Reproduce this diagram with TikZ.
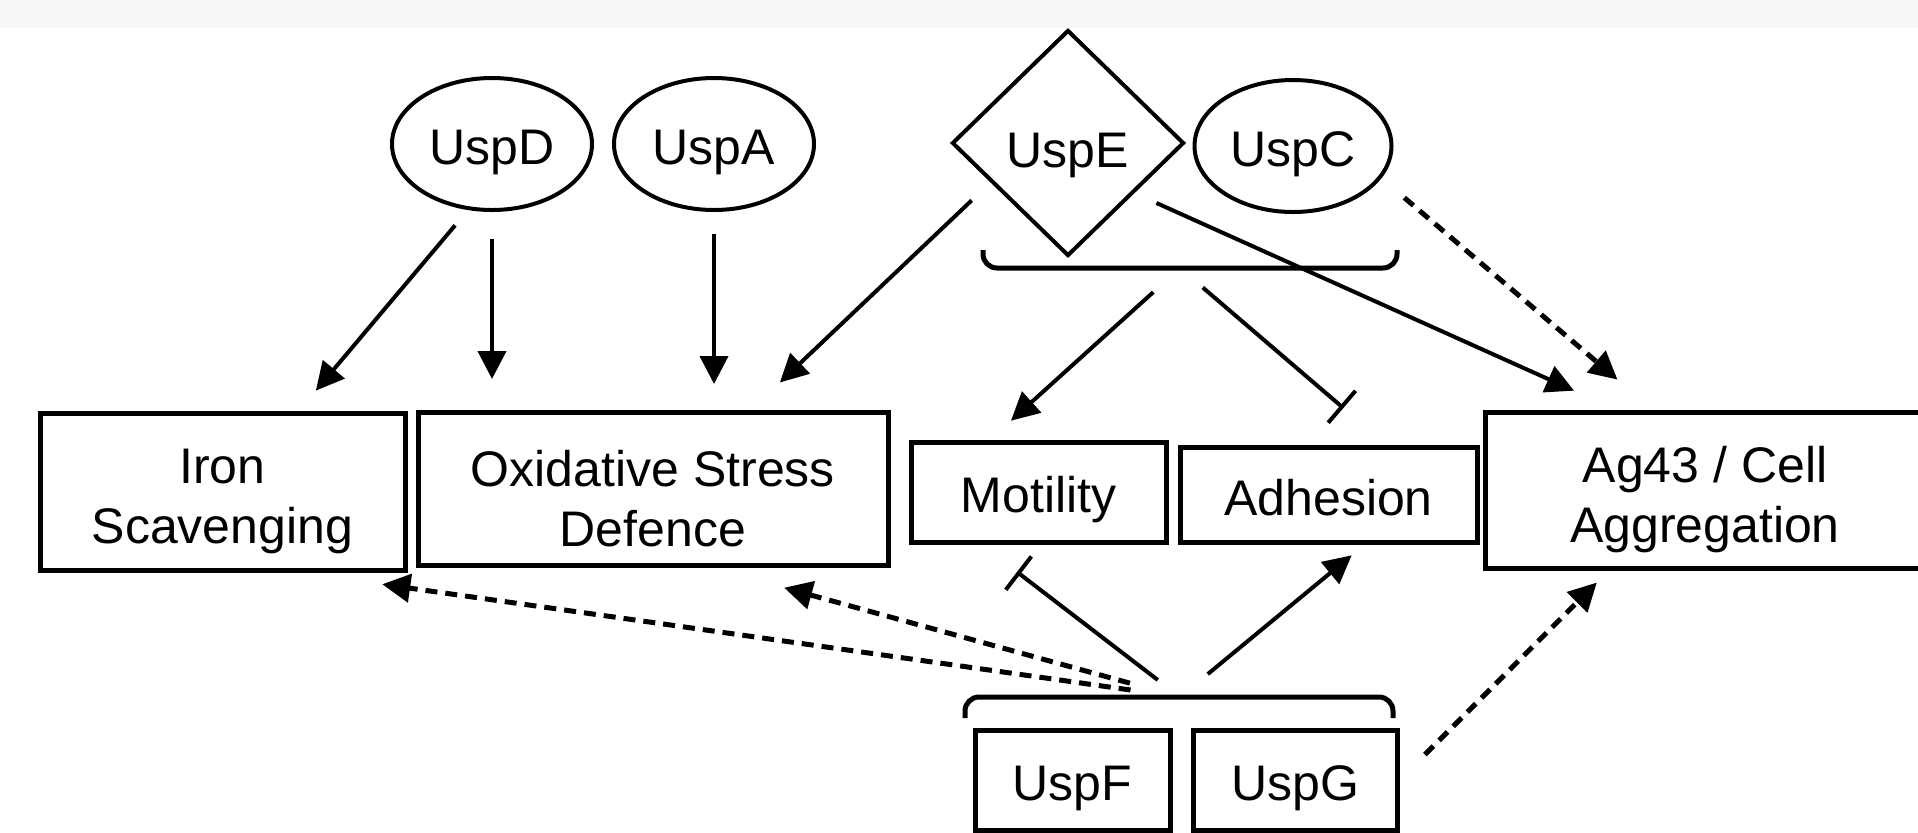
\documentclass[tikz,border=0pt]{standalone}
\usepackage{fontspec}
\setmainfont{Liberation Sans}
\usetikzlibrary{arrows.meta, positioning, shapes.geometric, calc}
\definecolor{bandgray}{HTML}{F8F8F8}

\begin{document}
\begin{tikzpicture}[x=0.5pt, y=-0.5pt, font=\fontsize{25}{30}\selectfont,
  txtone/.style={text height=26pt, text depth=5.5pt},
  txttwo/.style={text height=57.5pt},
  uspell/.style={draw, ellipse, line width=2pt, minimum width=100pt, minimum height=66pt, inner sep=0pt, txtone},
  procbox/.style={draw, rectangle, line width=2.5pt, align=center, inner sep=0pt},
  act/.style={-{Triangle[length=14pt, width=14pt]}, line width=2pt},
  inh/.style={-{Bar[width=21pt]}, line width=2pt},
  weak/.style={act, line width=2.5pt, dash pattern=on 6pt off 4pt},
  brace/.style={line width=2.5pt, rounded corners=7pt}]
\useasboundingbox (0,0) rectangle (1918,832);
\clip (0,0) rectangle (1918,832);
\fill[bandgray] (0,0) rectangle (1918,28);

% Usp proteins
\node[uspell] (UspD) at (492,144) {UspD};
\node[uspell, right=9pt of UspD] (UspA) {UspA};
\node[draw, diamond, line width=2pt, minimum width=116pt, minimum height=113pt, inner sep=0pt, txtone, text height=30pt] (UspE) at (1068,143) {UspE};
\node[uspell, minimum width=98.5pt] (UspC) at (1293,146) {UspC};

% phenotypes
\node[procbox, txttwo, minimum width=182.5pt, minimum height=78.5pt] (Iron) at (222.5,491.5) {Iron\\Scavenging};
\node[procbox, txttwo, minimum width=235pt, minimum height=76.5pt] (Oxid) at (653,489) {Oxidative Stress\\Defence};
\node[procbox, txtone, minimum width=127.5pt, minimum height=50pt] (Mot) at (1038.5,492) {Motility};
\node[procbox, txtone, minimum width=148.5pt, minimum height=47.5pt] (Adh) at (1328.5,494.5) {Adhesion};
\node[procbox, txttwo, minimum width=220pt, minimum height=78pt] (Ag43) at (1705,490) {Ag43 / Cell\\Aggregation};

\node[procbox, txtone, minimum width=97.5pt, minimum height=50pt] (UspF) at (1072.5,780) {UspF};
\node[procbox, txtone, minimum width=102pt, minimum height=50pt, right=9pt of UspF] (UspG) {UspG};

% brackets
\draw[brace] (983,250) -- (983,268) -- (1397,268) -- (1397,250);
\coordinate (topbr) at (1180,268);
\draw[brace] (965,718) -- (965,697) -- (1393,697) -- (1393,718);
\coordinate (botbr) at (1180,697);

\draw[act, shorten <=10pt, shorten >=13pt] (UspD.250) -- ($(Iron.north west)!0.707!(Iron.north east)$);
\draw[act, shorten <=13.5pt, shorten >=15.5pt] (UspD.south) -- (UspD.south |- Oxid.north);
\draw[act, shorten <=11pt, shorten >=13pt] (UspA.south) -- (UspA.south |- Oxid.north);
\draw[act, shorten <=13pt, shorten >=20pt] (UspE.207) -- ($(Oxid.north west)!0.706!(Oxid.north east)$);
\draw[act, shorten <=12pt, shorten >=23pt] (UspE.323) -- ($(Ag43.north west)!0.3!(Ag43.north east)$);
\draw[weak, shorten <=15pt, shorten >=23pt] (UspC.340) -- ($(Ag43.north west)!0.382!(Ag43.north east)$);

\draw[act, shorten <=18pt, shorten >=14pt] (topbr) -- ($(Mot.north west)!0.314!(Mot.north east)$);
\draw[inh, shorten <=15pt, shorten >=28pt] (topbr) -- ($(Adh.north west)!0.69!(Adh.north east)$);

\draw[weak, shorten <=25pt, shorten >=42pt] (botbr) -- ($(Iron.south west)!0.707!(Iron.south east)$);
\draw[weak, shorten <=26pt, shorten >=37pt] (botbr) -- ($(Oxid.south west)!0.626!(Oxid.south east)$);
\draw[inh, shorten <=14pt, shorten >=22.5pt] (botbr) -- ($(Mot.south west)!0.28!(Mot.south east)$);
\draw[act, shorten <=18pt, shorten >=8.5pt] (botbr) -- ($(Adh.south west)!0.62!(Adh.south east)$);
\draw[weak, shorten <=18pt, shorten >=8.5pt] (UspG.east) -- ($(Ag43.south west)!0.284!(Ag43.south east)$);
\end{tikzpicture}
\end{document}
